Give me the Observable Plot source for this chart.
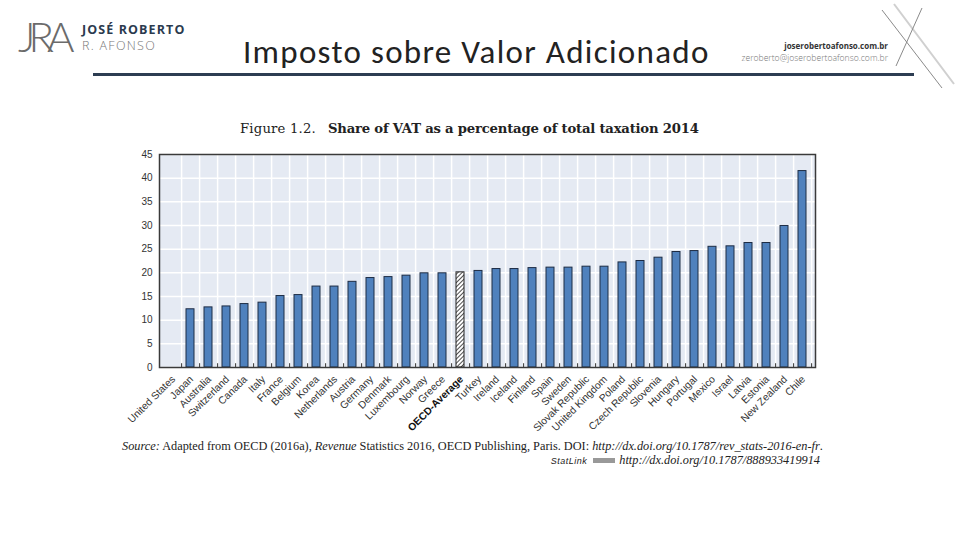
<!DOCTYPE html>
<html>
<head>
<meta charset="utf-8">
<script src="https://cdn.jsdelivr.net/npm/d3@7"></script>
<script src="https://cdn.jsdelivr.net/npm/@observablehq/plot@0.6"></script>
<style>
  html, body { margin: 0; padding: 0; background: #fff; }
  #page { position: relative; width: 960px; height: 540px; overflow: hidden; background: #fff; }
  .abs { position: absolute; white-space: nowrap; }
  #logo { left: 18px; top: 12px; font-family: Lato, "Open Sans", sans-serif; font-weight: 300; font-size: 42px; line-height: 48px; color: #6b6b6b; letter-spacing: -7px; }
  #brand1 { left: 82px; top: 23px; font-family: "Open Sans", sans-serif; font-weight: 700; font-size: 12.5px; line-height: 14px; color: #2b3a4e; letter-spacing: 1.1px; }
  #brand2 { left: 82px; top: 39px; font-family: "Open Sans", sans-serif; font-weight: 300; font-size: 12.5px; line-height: 14px; color: #777; letter-spacing: 1.3px; }
  #title { left: 243px; top: 32px; font-family: Carlito, Lato, "Open Sans", sans-serif; font-size: 33px; line-height: 40px; letter-spacing: 1.3px; color: #222; }
  #rule { left: 93px; top: 73px; width: 821px; height: 3px; background: #2d3d52; }
  #site { right: 72px; top: 40px; font-family: "Open Sans", sans-serif; font-weight: 700; font-size: 8px; line-height: 11px; color: #333; text-align: right; }
  #mail { right: 72px; top: 53px; font-family: "Open Sans", sans-serif; font-weight: 300; font-size: 8.6px; line-height: 11px; color: #777; text-align: right; }
  #figtitle { left: 240px; top: 120px; font-family: "DejaVu Serif", serif; font-size: 13.2px; line-height: 17px; color: #222; }
  #figtitle .fig { letter-spacing: 0.2px; }
  #figtitle b { margin-left: 12px; letter-spacing: -0.2px; }
  #source { left: 122px; top: 439px; font-family: "Liberation Serif", serif; font-size: 12.3px; line-height: 14px; color: #222; }
  #statlink { right: 140px; top: 453px; font-family: "Liberation Serif", serif; font-size: 12.3px; line-height: 14px; color: #222; }
  #statlink .sl { font-family: "Liberation Sans", sans-serif; font-style: italic; font-size: 9px; letter-spacing: 0.5px; }
  #statlink .ico { display: inline-block; width: 22px; height: 5px; background: #999; margin: 0 4px 1px 6px; vertical-align: middle; }
  #chart { left: 0; top: 140px; }
</style>
</head>
<body>
<div id="page">
  <div class="abs" id="logo">JRA</div>
  <div class="abs" id="brand1">JOSÉ ROBERTO</div>
  <div class="abs" id="brand2">R. AFONSO</div>
  <div class="abs" id="title">Imposto sobre Valor Adicionado</div>
  <div class="abs" id="rule"></div>
  <div class="abs" id="site">joserobertoafonso.com.br</div>
  <div class="abs" id="mail">zeroberto@joserobertoafonso.com.br</div>
  <svg class="abs" style="left:860px;top:0" width="100" height="95">
    <line x1="22" y1="10" x2="82" y2="88" stroke="#8a8a8a" stroke-width="1"/>
    <line x1="34" y1="4" x2="94" y2="84" stroke="#d0d0d0" stroke-width="2"/>
    <line x1="62" y1="8" x2="36" y2="66" stroke="#8a8a8a" stroke-width="1"/>
  </svg>
  <div class="abs" id="figtitle"><span class="fig">Figure 1.2.</span><b>Share of VAT as a percentage of total taxation 2014</b></div>
  <div class="abs" id="chart"></div>
  <div class="abs" id="source"><i>Source:</i> Adapted from OECD (2016a), <i>Revenue</i> Statistics 2016, OECD Publishing, Paris. DOI: <i>http://dx.doi.org/10.1787/rev_stats-2016-en-fr</i>.</div>
  <div class="abs" id="statlink"><span class="sl">StatLink</span><span class="ico"></span><i>http://dx.doi.org/10.1787/888933419914</i></div>
</div>
<script>
const countries = ["United States","Japan","Australia","Switzerland","Canada","Italy","France","Belgium","Korea","Netherlands","Austria","Germany","Denmark","Luxembourg","Norway","Greece","OECD-Average","Turkey","Ireland","Iceland","Finland","Spain","Sweden","Slovak Republic","United Kingdom","Poland","Czech Republic","Slovenia","Hungary","Portugal","Mexico","Israel","Latvia","Estonia","New Zealand","Chile"];
const vatShare = [0,12.3,12.7,12.9,13.4,13.7,15.1,15.3,17.1,17.1,18.1,18.9,19.1,19.4,19.9,19.9,20.1,20.4,20.8,20.8,21.0,21.1,21.1,21.3,21.3,22.2,22.5,23.2,24.4,24.6,25.5,25.6,26.3,26.3,29.9,41.5];
const averageLabel = "OECD-Average";
const yTicks = [0,5,10,15,20,25,30,35,40,45];

const data = countries.map((c, i) => ({country: c, value: vatShare[i]}));
const W = 960, H = 300, ML = 159, MR = 145, MT = 14, MB = 73;
const step = (W - ML - MR) / countries.length;

const plot = Plot.plot({
  width: W, height: H,
  marginLeft: ML, marginRight: MR, marginTop: MT, marginBottom: MB,
  style: {fontFamily: "Liberation Sans, Arial, sans-serif", fontSize: "10px", color: "#333", background: "transparent", overflow: "visible"},
  x: {domain: countries, paddingInner: 0.55, paddingOuter: 0.275, axis: null},
  y: {domain: [0, 45], axis: null},
  marks: [
    Plot.frame({fill: "#e5eaf3", stroke: "none"}),
    Plot.ruleY(yTicks, {stroke: "#fff", strokeWidth: 1.5}),
    Plot.ruleX(countries, {x: d => d, dx: step / 2, stroke: "#fff", strokeWidth: 1.5}),
    Plot.ruleX(countries, {x: d => d, dx: step / 2, y1: 0, y2: 0.8, stroke: "#333", strokeWidth: 1}),
    Plot.barY(data.filter(d => d.value > 0 && d.country !== averageLabel), {x: "country", y: "value", fill: "#4f81bd", stroke: "#1d2c44", strokeWidth: 1}),
    Plot.barY(data.filter(d => d.country === averageLabel), {x: "country", y: "value", fill: "url(#hatch)", stroke: "#222", strokeWidth: 1}),
    Plot.frame({stroke: "#3a3a3a", strokeWidth: 1.5}),
    Plot.axisY(yTicks, {label: null, tickSize: 0, tickPadding: 7, fontSize: 10, fill: "#333"}),
    Plot.text(countries.filter(c => c !== averageLabel), {x: d => d, y: 0, text: d => d, rotate: -45, textAnchor: "end", dx: 1, dy: 10, fontSize: 10.3, fill: "#333"}),
    Plot.text([averageLabel], {x: d => d, y: 0, text: d => d, rotate: -45, textAnchor: "end", dx: 1, dy: 10, fontSize: 10.3, fontWeight: "bold", fill: "#111"})
  ]
});

const ns = "http://www.w3.org/2000/svg";
const defs = document.createElementNS(ns, "defs");
defs.innerHTML = '<pattern id="hatch" patternUnits="userSpaceOnUse" width="3" height="3" patternTransform="rotate(45)"><rect width="3" height="3" fill="#fff"/><line x1="0" y1="0" x2="0" y2="3" stroke="#222" stroke-width="1.6"/></pattern>';
plot.insertBefore(defs, plot.firstChild);
document.getElementById("chart").appendChild(plot);
</script>
</body>
</html>
